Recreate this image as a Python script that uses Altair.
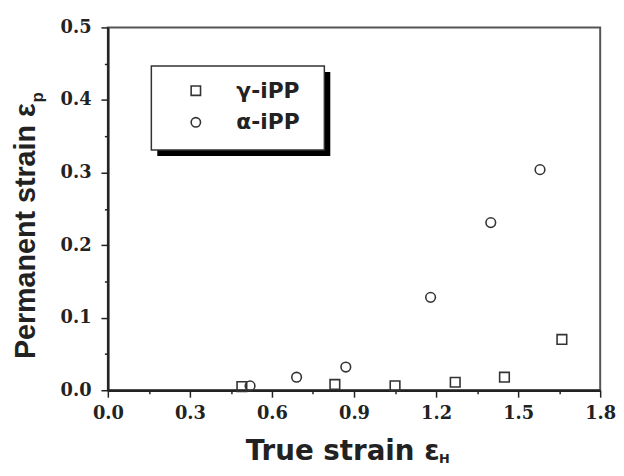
import altair as alt
import pandas as pd

# ---- data ----
series = ["γ-iPP", "α-iPP"]
gamma_x = [0.49, 0.83, 1.05, 1.27, 1.45, 1.66]
gamma_y = [0.005, 0.008, 0.006, 0.011, 0.018, 0.070]
alpha_x = [0.52, 0.69, 0.87, 1.18, 1.40, 1.58]
alpha_y = [0.006, 0.018, 0.032, 0.128, 0.231, 0.304]
x_ticks = [0.0, 0.15, 0.3, 0.45, 0.6, 0.75, 0.9, 1.05, 1.2, 1.35, 1.5, 1.65, 1.8]
y_ticks = [0.0, 0.05, 0.1, 0.15, 0.2, 0.25, 0.3, 0.35, 0.4, 0.45, 0.5]

df = pd.DataFrame({
    "x": gamma_x + alpha_x,
    "y": gamma_y + alpha_y,
    "series": [series[0]] * len(gamma_x) + [series[1]] * len(alpha_x),
})

INK = "#222222"

x_axis = alt.Axis(
    values=x_ticks,
    labelExpr="round(datum.value*100) % 30 == 0 ? format(datum.value, '.1f') : ''",
    tickSize={"condition": {"test": "round(datum.value*100) % 30 == 0", "value": 7}, "value": 3.5},
    title="True strain ε",
    titleFont="DejaVu Sans", titleFontSize=28, titleFontWeight="bold", titleColor=INK,
    titleAlign="center", titleBaseline="alphabetic", titleAngle=0, titleX=237, titleY=70,
    labelFont="DejaVu Serif", labelFontSize=18, labelFontWeight="bold", labelColor=INK,
    labelPadding=8, labelFlush=False, labelOverlap=False,
    domainColor=INK, domainWidth=2.5, tickColor=INK, tickWidth=1.5, grid=False,
)
y_axis = alt.Axis(
    values=y_ticks,
    labelExpr="round(datum.value*100) % 10 == 0 ? format(datum.value, '.1f') : ''",
    tickSize={"condition": {"test": "round(datum.value*100) % 10 == 0", "value": 7}, "value": 3.5},
    title="Permanent strain ε",
    titleFont="Liberation Sans", titleFontSize=29, titleFontWeight="bold", titleColor=INK,
    titleAlign="left", titleBaseline="alphabetic", titleAngle=270, titleX=-74, titleY=335,
    labelFont="DejaVu Serif", labelFontSize=18, labelFontWeight="bold", labelColor=INK,
    labelPadding=10, labelFlush=False, labelOverlap=False,
    domainColor=INK, domainWidth=2.5, tickColor=INK, tickWidth=1.5, grid=False,
)

legend = alt.Legend(
    orient="none", legendX=44, legendY=37, title=None, padding=16,
    labelFont="DejaVu Sans", labelFontSize=22, labelFontWeight="bold", labelColor=INK,
    symbolStrokeColor="#333333", symbolFillColor="white", symbolStrokeWidth=1.6,
    symbolSize=90, rowPadding=10, symbolOffset=18, labelOffset=30,
)

# legend frame decoration: drop shadow + white box with border
shadow = alt.Chart(alt.Data(values=[{"k": 1}])).mark_rect(color="black").encode(
    x=alt.value(50), x2=alt.value(225), y=alt.value(45), y2=alt.value(130)
)
frame = alt.Chart(alt.Data(values=[{"k": 1}])).mark_rect(
    fill="white", stroke="#333333", strokeWidth=1.5
).encode(x=alt.value(44), x2=alt.value(219), y=alt.value(39), y2=alt.value(124))

points = alt.Chart(df).mark_point(filled=False, strokeWidth=1.6, opacity=1, color="#333333", size=95).encode(
    x=alt.X("x:Q", scale=alt.Scale(domain=[0, 1.8], nice=False, zero=False), axis=x_axis),
    y=alt.Y("y:Q", scale=alt.Scale(domain=[0, 0.5], nice=False, zero=False), axis=y_axis),
    shape=alt.Shape("series:N", scale=alt.Scale(domain=series, range=["square", "circle"]), legend=legend),
)

sub_p = alt.Chart(alt.Data(values=[{"t": "p"}])).mark_text(
    font="Liberation Sans", fontSize=17, fontWeight="bold", color=INK,
    angle=270, align="left", baseline="alphabetic",
).encode(text="t:N", x=alt.value(-66), y=alt.value(76))

sub_h = alt.Chart(alt.Data(values=[{"t": "H"}])).mark_text(
    font="DejaVu Sans", fontSize=13, fontWeight="bold", color=INK,
    align="left", baseline="alphabetic",
).encode(text="t:N", x=alt.value(335), y=alt.value(441))

chart = alt.layer(shadow, frame, points, sub_p, sub_h).properties(
    width=498, height=367,
    autosize=alt.AutoSizeParams(type="none"),
    padding={"left": 101, "top": 17, "right": 16, "bottom": 76},
).configure_view(stroke="#555555", strokeWidth=2)

chart.save("out.html", embed_options={"renderer": "svg", "actions": False})
